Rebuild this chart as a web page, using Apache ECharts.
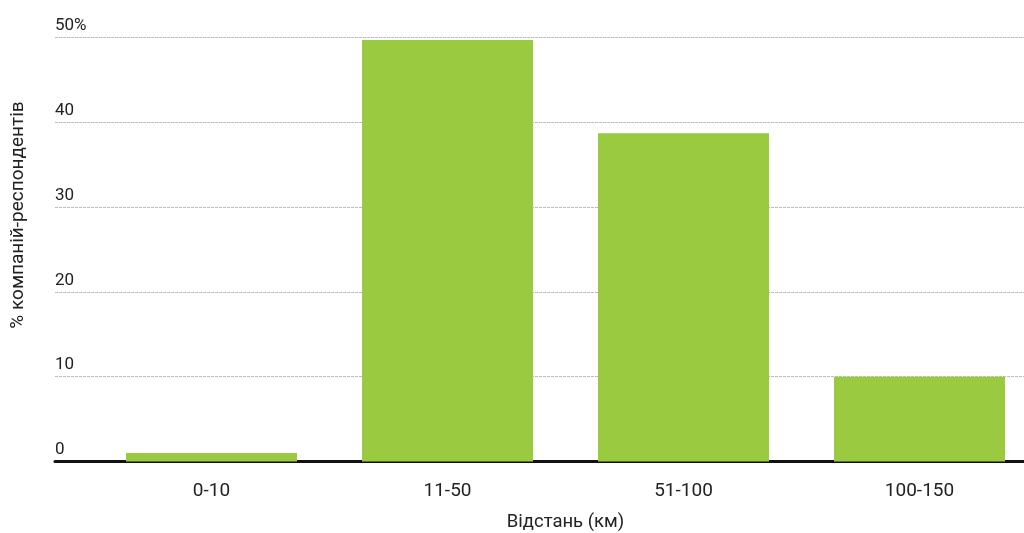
<!DOCTYPE html>
<html>
<head>
<meta charset="utf-8">
<script src="https://cdn.jsdelivr.net/npm/echarts@6/dist/echarts.min.js"></script>
<style>html,body{margin:0;padding:0;background:#fff}#c{width:1024px;height:533px}</style>
</head>
<body>
<div id="c"></div>
<script>
const categories = ['0-10', '11-50', '51-100', '100-150'];
const values = [1, 49.7, 38.7, 10];
const yTicks = [0, 10, 20, 30, 40, 50];
const xTitle = 'Відстань (км)';
const yTitle = '% компаній-респондентів';

const chart = echarts.init(document.getElementById('c'));
const font = 'Roboto, "DejaVu Sans", sans-serif';
chart.setOption({
  animation: false,
  grid: [
    {left: 55, right: 0, top: 37.5, bottom: 71.5, outerBoundsMode: 'none', containLabel: false},
    {left: 93.5, width: 944, top: 37.5, bottom: 71.5, outerBoundsMode: 'none', containLabel: false}
  ],
  xAxis: [
    {type: 'value', gridIndex: 0, min: 0, max: 1, show: true,
     axisLine: {show: true, onZero: false, lineStyle: {color: '#111', width: 3}},
     axisTick: {show: false}, axisLabel: {show: false}, splitLine: {show: false}},
    {type: 'category', gridIndex: 1, data: categories,
     axisLine: {show: false}, axisTick: {show: false},
     axisLabel: {margin: 20, fontSize: 19, color: '#222', fontFamily: font},
     name: xTitle, nameLocation: 'middle', nameGap: 51,
     nameTextStyle: {fontSize: 18.5, color: '#222', fontFamily: font}}
  ],
  yAxis: [
    {type: 'value', gridIndex: 0, min: 0, max: 50, interval: 10,
     axisLine: {show: false}, axisTick: {show: false},
     axisLabel: {inside: true, margin: 0, verticalAlign: 'bottom', padding: [0, 0, 3, 0],
       fontSize: 17, color: '#222', fontFamily: font,
       formatter: v => yTicks.includes(v) ? (v === 50 ? v + '%' : String(v)) : ''},
     splitLine: {show: true, lineStyle: {color: '#bdbdbd', width: 1, type: [3, 1]}}},
    {type: 'value', gridIndex: 1, min: 0, max: 50, show: false, splitLine: {show: false}}
  ],
  graphic: [{
    type: 'text', rotation: Math.PI / 2,
    x: 18, y: 215,
    style: {text: yTitle, fontSize: 19, fill: '#222', fontFamily: font, textAlign: 'center', textVerticalAlign: 'middle'}
  }],
  series: [{
    type: 'bar', xAxisIndex: 1, yAxisIndex: 1, data: values,
    barWidth: 171, itemStyle: {color: '#9aca40'}, z: 1
  }]
});
</script>
</body>
</html>
